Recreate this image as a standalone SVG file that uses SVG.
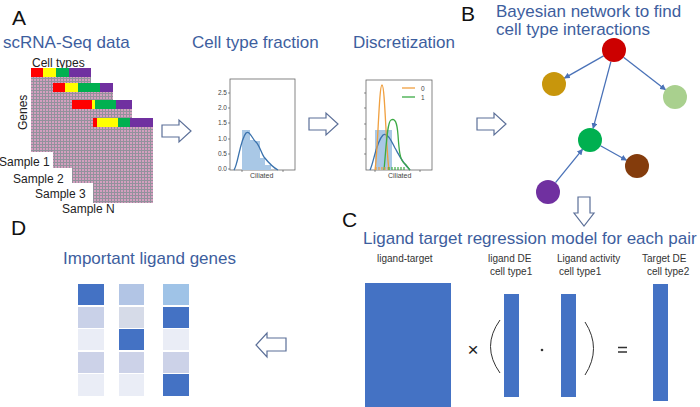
<svg xmlns="http://www.w3.org/2000/svg" width="700" height="407" viewBox="0 0 700 407">
<style>
.t{font-family:"Liberation Sans",Arial,sans-serif;fill:#3d5e9e;font-size:17px}
.lt{font-family:"Liberation Sans",Arial,sans-serif;fill:#111;font-size:21px}
.s{font-family:"Liberation Sans",Arial,sans-serif;fill:#222;font-size:12px}
.m{font-family:"Liberation Sans",Arial,sans-serif;fill:#333;font-size:10px}
.ax{font-family:"Liberation Sans",Arial,sans-serif;fill:#444;font-size:6.5px}
.hol{fill:#fff;stroke:#5b6f98;stroke-width:1.2}
.edge{stroke:#4a72b8;stroke-width:1.3;fill:none}
.frame{fill:#fff;stroke:#666;stroke-width:0.8}
.blk{fill:#4472c4}
</style>
<defs>
<pattern id="grid" width="3" height="3" patternUnits="userSpaceOnUse">
<rect width="3" height="3" fill="#d49fbf"/>
<path d="M0 0.5H3M0.5 0V3" stroke="#92929c" stroke-width="1"/>
</pattern>
<marker id="ah" viewBox="0 0 10 10" refX="9" refY="5" markerWidth="6" markerHeight="6" orient="auto" markerUnits="userSpaceOnUse">
<path d="M0 0L10 5L0 10z" fill="#4a72b8"/>
</marker>
</defs>
<rect width="700" height="407" fill="#fff"/>

<!-- Panel A -->
<g id="panelA">
<text class="lt" x="12" y="25">A</text>
<text class="t" x="3" y="48">scRNA-Seq data</text>
<text class="s" x="32" y="67">Cell types</text>
<text class="s" transform="translate(27 130) rotate(-90)">Genes</text>
<g id="matrix1">
<rect x="31" y="77" width="60" height="75" fill="url(#grid)"/>
<rect x="31" y="68" width="12" height="9" fill="#ff0000"/>
<rect x="43" y="68" width="13" height="9" fill="#ffff00"/>
<rect x="56" y="68" width="13" height="9" fill="#00b050"/>
<rect x="69" y="68" width="22" height="9" fill="#7030a0"/>
</g>
<g id="matrix2">
<rect x="53" y="92" width="60" height="76" fill="url(#grid)"/>
<rect x="53" y="83" width="12" height="9" fill="#ff0000"/>
<rect x="65" y="83" width="13" height="9" fill="#ffff00"/>
<rect x="78" y="83" width="22" height="9" fill="#00b050"/>
<rect x="100" y="83" width="13" height="9" fill="#7030a0"/>
</g>
<g id="matrix3">
<rect x="72" y="109" width="60" height="74" fill="url(#grid)"/>
<rect x="72" y="100" width="20" height="9" fill="#ff0000"/>
<rect x="92" y="100" width="3" height="9" fill="#ffff00"/>
<rect x="95" y="100" width="21" height="9" fill="#00b050"/>
<rect x="116" y="100" width="16" height="9" fill="#7030a0"/>
</g>
<g id="matrix4">
<rect x="93" y="127" width="60" height="76" fill="url(#grid)"/>
<rect x="93" y="118" width="4" height="9" fill="#ff0000"/>
<rect x="97" y="118" width="21" height="9" fill="#ffff00"/>
<rect x="118" y="118" width="12" height="9" fill="#00b050"/>
<rect x="130" y="118" width="23" height="9" fill="#7030a0"/>
</g>
<text class="s" x="-1" y="166">Sample 1</text>
<text class="s" x="13" y="183">Sample 2</text>
<text class="s" x="35" y="198">Sample 3</text>
<text class="s" x="62" y="213">Sample N</text>
</g>

<!-- Cell type fraction chart -->
<g id="fraction">
<text class="t" x="192" y="48">Cell type fraction</text>
<rect class="frame" x="230" y="79" width="65" height="91"/>
<g fill="#a9c8e6">
<rect x="242" y="130" width="8" height="40"/>
<rect x="250" y="140" width="5" height="30"/>
<rect x="255" y="141" width="5" height="29"/>
<rect x="260" y="158" width="5" height="12"/>
<rect x="265" y="165" width="6" height="5"/>
</g>
<path d="M234 170C238 165 240 140 246 133C250 130 252 139 256 142C260 146 261 153 264 157C268 162 272 167 278 170" fill="none" stroke="#3a72ad" stroke-width="1.3"/>
<g stroke="#444" stroke-width="0.6">
<path d="M228 93H230M228 108H230M228 123H230M228 139H230M228 154H230M228 169H230M242 170V172M283 170V172"/>
</g>
<g class="ax" text-anchor="end">
<text x="227" y="95">2.5</text>
<text x="227" y="110">2.0</text>
<text x="227" y="125">1.5</text>
<text x="227" y="141">1.0</text>
<text x="227" y="156">0.5</text>
<text x="227" y="171">0.0</text>
</g>
<text class="ax" x="250" y="178" style="font-size:7px">Ciliated</text>
</g>

<!-- Discretization chart -->
<g id="discretization">
<text class="t" x="353" y="48">Discretization</text>
<rect class="frame" x="366" y="80" width="66" height="90"/>
<rect x="375" y="130" width="17" height="40" fill="#a9c8e6"/>
<path d="M370 170C374 162 376 142 383 135C387 132 391 140 395 148C399 155 402 162 410 170" fill="none" stroke="#3a72ad" stroke-width="1.3"/>
<path d="M375 170C378 150 379 85 382 85C385 85 386 150 389 170" fill="none" stroke="#f0a040" stroke-width="1.3"/>
<path d="M384 170C386 150 387 122 391 120C395 118 397 122 398 135C399 150 400 160 404 163C407 165 408 168 410 170" fill="none" stroke="#3caa44" stroke-width="1.3"/>
<path d="M376 167V170M379 167V170M382 167V170M385 167V170M388 167V170" stroke="#f0a040" stroke-width="1.2"/>
<path d="M389 167V170M392 167V170M395 167V170M398 167V170M401 167V170M404 167V170" stroke="#3caa44" stroke-width="1.2"/>
<g stroke="#444" stroke-width="0.6">
<path d="M364 93H366M364 108H366M364 124H366M364 139H366M364 154H366M375 170V172M420 170V172"/>
</g>
<path d="M402 88H415" stroke="#f0a040" stroke-width="1.3"/>
<path d="M402 97H415" stroke="#3caa44" stroke-width="1.3"/>
<text class="ax" x="421" y="90.5">0</text>
<text class="ax" x="421" y="99.5">1</text>
<text class="ax" x="388" y="178" style="font-size:7px">Ciliated</text>
</g>

<!-- Hollow arrows -->
<g id="arrows">
<path class="hol" d="M162 125H179V120L191 131L179 142V137H162Z"/>
<path class="hol" d="M309 118H326V113L338 124L326 135V130H309Z"/>
<path class="hol" d="M477 118H494V113L506 124L494 135V130H477Z"/>
<path class="hol" d="M578 197H590V213H594L584 226L574 213H578Z"/>
<path class="hol" d="M286 338H267V333L256 345L267 357V351H286Z"/>
</g>

<!-- Panel B -->
<g id="panelB">
<text class="lt" x="461" y="21">B</text>
<text class="t" x="496" y="16.5">Bayesian network to find</text>
<text class="t" x="496" y="35">cell type interactions</text>
</g>
<g id="connectors">
<line class="edge" x1="603.6" y1="55.9" x2="564.4" y2="78.1" marker-end="url(#ah)"/>
<line class="edge" x1="623.5" y1="57.3" x2="665.5" y2="89.7" marker-end="url(#ah)"/>
<line class="edge" x1="610.9" y1="61.6" x2="593.1" y2="128.4" marker-end="url(#ah)"/>
<line class="edge" x1="600.5" y1="145.8" x2="626.5" y2="160.2" marker-end="url(#ah)"/>
<line class="edge" x1="555.5" y1="182.7" x2="582.5" y2="149.3" marker-end="url(#ah)"/>
</g>
<g id="node-red"><circle cx="614" cy="50" r="12" fill="#cc0000"/></g>
<g id="node-gold"><circle cx="554" cy="84" r="12" fill="#c8960c"/></g>
<g id="node-lightgreen"><circle cx="675" cy="97" r="12" fill="#a9d08e"/></g>
<g id="node-green"><circle cx="590" cy="140" r="12" fill="#00b050"/></g>
<g id="node-brown"><circle cx="637" cy="166" r="12" fill="#843c0c"/></g>
<g id="node-purple"><circle cx="548" cy="192" r="12" fill="#7030a0"/></g>

<!-- Panel C -->
<g id="panelC">
<text class="lt" x="342" y="227">C</text>
<text class="t" x="363" y="244">Ligand target regression model for each pair</text>
<text class="m" x="377" y="262">ligand-target</text>
<text class="m" x="488" y="262">ligand DE</text>
<text class="m" x="490" y="275">cell type1</text>
<text class="m" x="557" y="262">Ligand activity</text>
<text class="m" x="559" y="275">cell type1</text>
<text class="m" x="642" y="262">Target DE</text>
<text class="m" x="647" y="275">cell type2</text>
<rect class="blk" x="365" y="283" width="86" height="124"/>
<rect class="blk" x="504" y="294" width="15" height="103"/>
<rect class="blk" x="561" y="294" width="15" height="103"/>
<rect class="blk" x="653" y="284" width="15" height="117"/>
<text x="473" y="356" style="font-family:'Liberation Sans',Arial,sans-serif;font-size:19px;fill:#222" text-anchor="middle">×</text>
<path d="M500 320Q481 346.5 500 373" fill="none" stroke="#333" stroke-width="1"/>
<path d="M585 322Q602 348.5 585 375" fill="none" stroke="#333" stroke-width="1"/>
<circle cx="542" cy="350" r="1.3" fill="#333"/>
<path d="M618 347.5H627M618 352H627" stroke="#333" stroke-width="1.3"/>
</g>

<!-- Panel D -->
<g id="panelD">
<text class="lt" x="11" y="235">D</text>
<text class="t" x="63" y="264">Important ligand genes</text>
<rect x="78" y="284" width="26" height="21" fill="#4472c4"/>
<rect x="78" y="307" width="26" height="21" fill="#c9d1e8"/>
<rect x="78" y="329" width="26" height="21" fill="#eaedf6"/>
<rect x="78" y="352" width="26" height="21" fill="#ccd2e8"/>
<rect x="78" y="374" width="26" height="22" fill="#eaedf6"/>
<rect x="119" y="284" width="25" height="21" fill="#b2c5e5"/>
<rect x="119" y="307" width="25" height="21" fill="#d6dbe8"/>
<rect x="119" y="329" width="25" height="21" fill="#4472c4"/>
<rect x="119" y="352" width="25" height="21" fill="#ccd2e8"/>
<rect x="119" y="374" width="25" height="22" fill="#eaedf6"/>
<rect x="163" y="284" width="26" height="21" fill="#9fc3e7"/>
<rect x="163" y="307" width="26" height="21" fill="#4472c4"/>
<rect x="163" y="329" width="26" height="21" fill="#eaedf6"/>
<rect x="163" y="352" width="26" height="21" fill="#ccd2e8"/>
<rect x="163" y="374" width="26" height="22" fill="#4472c4"/>
</g>
</svg>
